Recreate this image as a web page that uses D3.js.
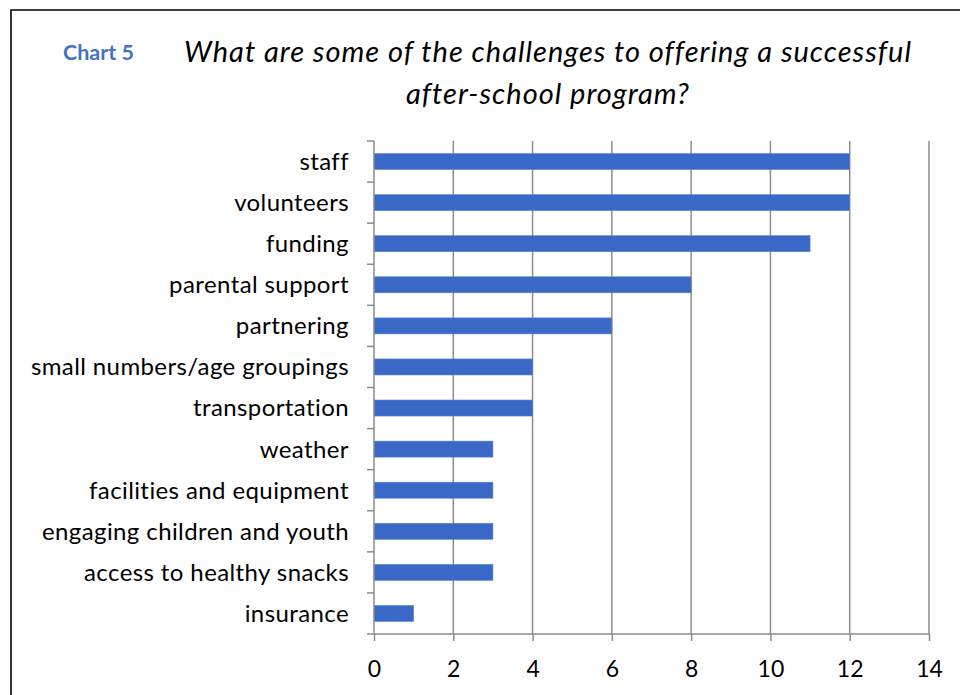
<!DOCTYPE html>
<html>
<head>
<meta charset="utf-8">
<script src="https://cdn.jsdelivr.net/npm/d3@7"></script>
<style>
  html, body { margin: 0; padding: 0; background: #fff; }
  svg { display: block; }
</style>
</head>
<body>
<svg id="chart" width="960" height="695"></svg>
<script>
// Challenges reported, number of responses
const categories = [
  "staff", "volunteers", "funding", "parental support", "partnering",
  "small numbers/age groupings", "transportation", "weather",
  "facilities and equipment", "engaging children and youth",
  "access to healthy snacks", "insurance"
];
const counts = [12, 12, 11, 8, 6, 4, 4, 3, 3, 3, 3, 1];
const xTicks = [0, 2, 4, 6, 8, 10, 12, 14];
const titleLines = [
  "What are some of the challenges to offering a successful",
  "after-school program?"
];
const chartLabel = "Chart 5";

const data = categories.map((c, i) => ({ name: c, value: counts[i] }));

const svg = d3.select("#chart");
const font = "Lato, 'Open Sans', sans-serif";
const gridColor = "#8c8c8c";
const barColor = "#3968c6";

const plot = { left: 374, right: 929, top: 141, bottom: 634 };

const x = d3.scaleLinear().domain([0, 14]).range([plot.left, plot.right]);
const y = d3.scaleBand().domain(categories).range([plot.top, plot.bottom])
  .paddingInner(0.61).paddingOuter(0.305);
const yBand = d3.scaleBand().domain(categories).range([plot.top, plot.bottom]);

// frame
svg.append("path")
  .attr("d", "M11,700 L11,10 L965,10")
  .attr("fill", "none").attr("stroke", "#000").attr("stroke-width", 1.6);

// chart label
svg.append("text")
  .attr("x", 63).attr("y", 60)
  .attr("font-family", font).attr("font-weight", 700)
  .attr("font-size", 21.5).attr("fill", "#4472c4")
  .text(chartLabel);

// title
svg.append("g").selectAll("text").data(titleLines).join("text")
  .attr("x", 548).attr("y", (d, i) => 62 + i * 42)
  .attr("text-anchor", "middle")
  .attr("font-family", font).attr("font-style", "italic")
  .attr("font-size", 29).attr("letter-spacing", 1).attr("fill", "#000")
  .text(d => d);

// vertical gridlines
svg.append("g").selectAll("line").data(xTicks.slice(1)).join("line")
  .attr("x1", d => x(d)).attr("x2", d => x(d))
  .attr("y1", plot.top).attr("y2", plot.bottom)
  .attr("stroke", gridColor).attr("stroke-width", 1.5);

// bars
svg.append("g").selectAll("rect").data(data).join("rect")
  .attr("x", x(0))
  .attr("y", d => y(d.name))
  .attr("width", d => x(d.value) - x(0))
  .attr("height", y.bandwidth())
  .attr("fill", barColor)
  .attr("stroke", "#5b85d6").attr("stroke-width", 0.6);

// bottom axis
const xAxis = svg.append("g")
  .attr("transform", `translate(0,${plot.bottom})`)
  .call(d3.axisBottom(x).tickValues(xTicks).tickSize(7).tickPadding(0));
xAxis.select(".domain").remove();
xAxis.selectAll(".tick line").attr("stroke", gridColor).attr("stroke-width", 1.5);
xAxis.selectAll(".tick text")
  .attr("y", 43).attr("dy", null)
  .attr("font-family", font).attr("font-size", 23).attr("fill", "#000");
svg.append("line")
  .attr("x1", plot.left - 7).attr("x2", plot.right + 1)
  .attr("y1", plot.bottom).attr("y2", plot.bottom)
  .attr("stroke", gridColor).attr("stroke-width", 1.5);

// left axis with ticks at category boundaries
svg.append("line")
  .attr("x1", plot.left).attr("x2", plot.left)
  .attr("y1", plot.top).attr("y2", plot.bottom)
  .attr("stroke", gridColor).attr("stroke-width", 1.5);
const bounds = categories.map(c => yBand(c));
svg.append("g").selectAll("line").data(bounds).join("line")
  .attr("x1", plot.left - 7).attr("x2", plot.left)
  .attr("y1", d => d).attr("y2", d => d)
  .attr("stroke", gridColor).attr("stroke-width", 1.5);

// category labels
svg.append("g").selectAll("text").data(categories).join("text")
  .attr("x", 349)
  .attr("y", d => yBand(d) + yBand.bandwidth() / 2)
  .attr("dy", "0.35em")
  .attr("text-anchor", "end")
  .attr("font-family", font).attr("font-size", 24).attr("letter-spacing", 0.4)
  .attr("fill", "#000")
  .text(d => d);
</script>
</body>
</html>
